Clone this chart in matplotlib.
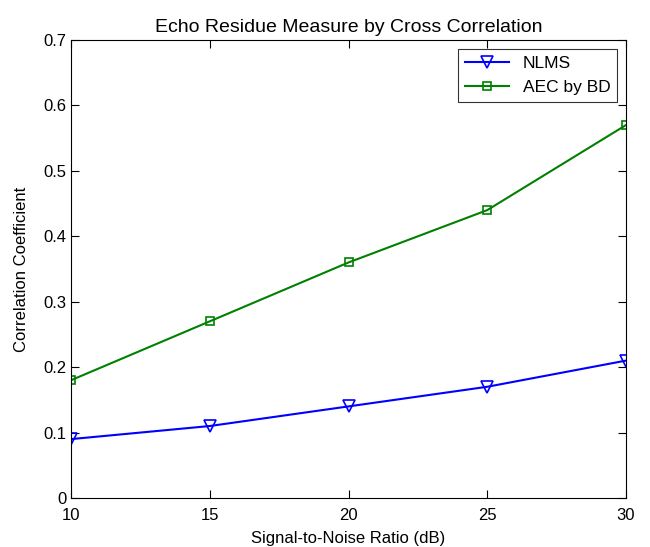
import matplotlib
matplotlib.use('Agg')
import matplotlib.pyplot as plt

plt.rcParams['font.family'] = ['Liberation Sans', 'DejaVu Sans']

snr = [10, 15, 20, 25, 30]
nlms = [0.09, 0.11, 0.14, 0.17, 0.21]
aec_bd = [0.18, 0.27, 0.36, 0.44, 0.57]

fig = plt.figure(figsize=(6.5, 5.47), dpi=100)
ax = fig.add_axes([71/650, 1 - 498/547, (626-71)/650, (498-40)/547])

ax.plot(snr, nlms, color='#0000ff', marker='v', markersize=8, markerfacecolor='none',
        markeredgewidth=1.2, linewidth=1.5, label='NLMS')
ax.plot(snr, aec_bd, color='#008000', marker='s', markersize=6, markerfacecolor='none',
        markeredgewidth=1.2, linewidth=1.5, label='AEC by BD')

ax.set_xlim(10, 30)
ax.set_ylim(0, 0.7)
ax.set_xticks([10, 15, 20, 25, 30])
ax.set_yticks([0, 0.1, 0.2, 0.3, 0.4, 0.5, 0.6, 0.7])
ax.set_yticklabels(['0', '0.1', '0.2', '0.3', '0.4', '0.5', '0.6', '0.7'])
ax.tick_params(direction='in', top=True, right=True, labelsize=12, length=6)
ax.tick_params(axis='x', pad=7)

ax.set_title('Echo Residue Measure by Cross Correlation', fontsize=14, pad=6)
ax.set_xlabel('Signal-to-Noise Ratio (dB)', fontsize=12, labelpad=6)
ax.set_ylabel('Correlation Coefficient', fontsize=12, labelpad=10)

leg = ax.legend(loc='upper right', fontsize=12.5, fancybox=False, edgecolor='black',
                borderaxespad=0.5, handlelength=2.5)
leg.get_frame().set_linewidth(0.8)

fig.savefig('out.png', dpi=100)
